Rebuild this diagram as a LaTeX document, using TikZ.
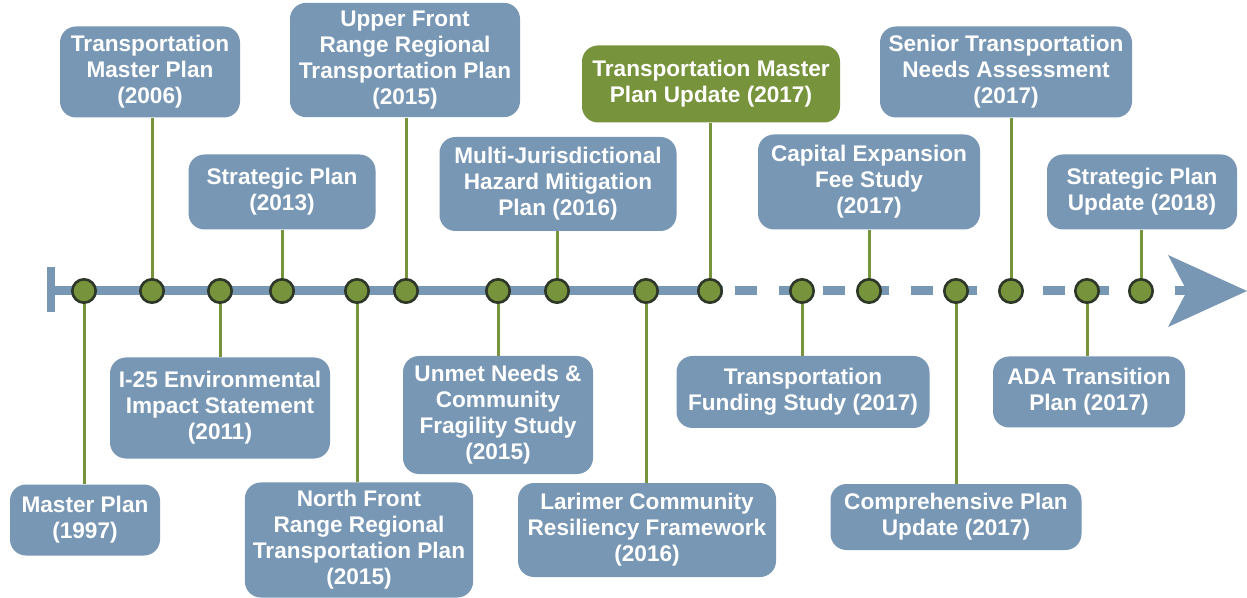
\documentclass[tikz,border=0pt]{standalone}
\usepackage{fontspec}
\setmainfont{Liberation Sans}
\definecolor{planblue}{RGB}{120,151,180}
\definecolor{plangreen}{RGB}{119,147,60}
\definecolor{dotrim}{RGB}{45,55,40}
\begin{document}
\begin{tikzpicture}[x=0.5pt,y=-0.5pt,
  plan/.style={fill=planblue, rounded corners=8pt, text=white, align=center,
    font=\fontsize{11.3}{13}\selectfont\bfseries, inner sep=4pt},
  current/.style={plan, fill=plangreen},
  dot/.style={circle, fill=plangreen, draw=dotrim, line width=1.3pt,
    minimum size=11.7pt, inner sep=0pt},
  stem/.style={plangreen, line width=1.5pt}]
\useasboundingbox (0,0) rectangle (1247,598);

% time line
\fill[planblue] (47,267) rectangle (55,312);
\coordinate (start) at (55,291);
\coordinate (now) at (723,291);
\coordinate (end) at (1192,291);
\draw[planblue, line width=4.5pt] (start) -- (now);
\draw[planblue, line width=4.5pt, dash pattern=on 11pt off 11pt] ([xshift=6pt]now) -- (end);
\fill[planblue] (1168,255) -- (1247,291) -- (1168,327) -- (1187,291) -- cycle;

% plans below the line
\node[plan, minimum width=75pt, minimum height=35.5pt] (b1) at (85,520) {Master Plan\\(1997)};
\node[plan, minimum width=110pt, minimum height=50.5pt] (b3) at (220,408) {I-25 Environmental\\Impact Statement\\(2011)};
\node[plan, minimum width=112pt, minimum height=57pt] (b5) at (359,540) {North Front\\Range Regional\\Transportation Plan\\(2015)};
\node[plan, minimum width=95pt, minimum height=59pt] (b7) at (498,415) {Unmet Needs \&\\Community\\Fragility Study\\(2015)};
\node[plan, minimum width=129pt, minimum height=47pt] (b9) at (647,530) {Larimer Community\\Resiliency Framework\\(2016)};
\node[plan, minimum width=126.5pt, minimum height=36pt] (b11) at (803,392) {Transportation\\Funding Study (2017)};
\node[plan, minimum width=125.5pt, minimum height=33pt] (b13) at (956,517) {Comprehensive Plan\\Update (2017)};
\node[plan, minimum width=96pt, minimum height=35.5pt] (b15) at (1089,392) {ADA Transition\\Plan (2017)};

% plans above the line
\node[plan, minimum width=90pt, minimum height=45.5pt] (b2) at (150,72) {Transportation\\Master Plan\\(2006)};
\node[plan, minimum width=93.5pt, minimum height=37.5pt] (b4) at (282,192) {Strategic Plan\\(2013)};
\node[plan, minimum width=115pt, minimum height=55pt] (b6) at (405,60) {Upper Front\\Range Regional\\Transportation Plan\\(2015)};
\node[plan, minimum width=118.5pt, minimum height=47pt] (b8) at (558,184) {Multi-Jurisdictional\\Hazard Mitigation\\Plan (2016)};
\node[current, minimum width=129pt, minimum height=38.5pt] (b10) at (711,84) {Transportation Master\\Plan Update (2017)};
\node[plan, minimum width=111pt, minimum height=47.5pt] (b12) at (869,182) {Capital Expansion\\Fee Study\\(2017)};
\node[plan, minimum width=126pt, minimum height=45.5pt] (b14) at (1006,72) {Senior Transportation\\Needs Assessment\\(2017)};
\node[plan, minimum width=95pt, minimum height=37.5pt] (b16) at (1142,192) {Strategic Plan\\Update (2018)};

% dots on the line
\node[dot] (d1) at (84,291) {};
\node[dot] (d2) at (152,291) {};
\node[dot] (d3) at (220,291) {};
\node[dot] (d4) at (282,291) {};
\node[dot] (d5) at (357,291) {};
\node[dot] (d6) at (406,291) {};
\node[dot] (d7) at (498,291) {};
\node[dot] (d8) at (557,291) {};
\node[dot] (d9) at (646,291) {};
\node[dot] (d10) at (710,291) {};
\node[dot] (d11) at (802,291) {};
\node[dot] (d12) at (869,291) {};
\node[dot] (d13) at (956,291) {};
\node[dot] (d14) at (1011,291) {};
\node[dot] (d15) at (1087,291) {};
\node[dot] (d16) at (1141,291) {};

% stems
\draw[stem] (d1.south) -- (d1.south |- b1.north);
\draw[stem] (d3.south) -- (d3.south |- b3.north);
\draw[stem] (d5.south) -- (d5.south |- b5.north);
\draw[stem] (d7.south) -- (d7.south |- b7.north);
\draw[stem] (d9.south) -- (d9.south |- b9.north);
\draw[stem] (d11.south) -- (d11.south |- b11.north);
\draw[stem] (d13.south) -- (d13.south |- b13.north);
\draw[stem] (d15.south) -- (d15.south |- b15.north);
\draw[stem] (d2.north) -- (d2.north |- b2.south);
\draw[stem] (d4.north) -- (d4.north |- b4.south);
\draw[stem] (d6.north) -- (d6.north |- b6.south);
\draw[stem] (d8.north) -- (d8.north |- b8.south);
\draw[stem] (d10.north) -- (d10.north |- b10.south);
\draw[stem] (d12.north) -- (d12.north |- b12.south);
\draw[stem] (d14.north) -- (d14.north |- b14.south);
\draw[stem] (d16.north) -- (d16.north |- b16.south);

\end{tikzpicture}
\end{document}
